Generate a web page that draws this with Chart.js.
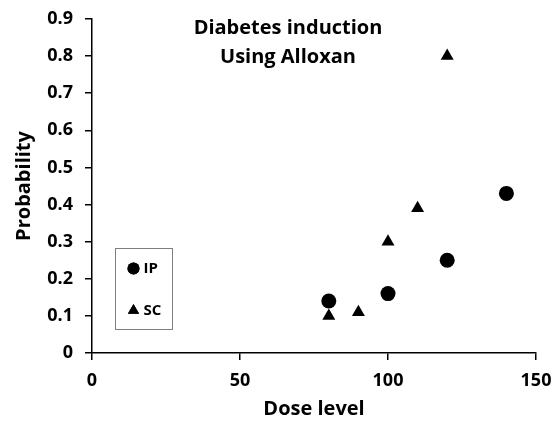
<!DOCTYPE html>
<html>
<head>
<meta charset="utf-8">
<script src="https://cdn.jsdelivr.net/npm/chart.js@4/dist/chart.umd.min.js"></script>
<style>
  html, body { margin: 0; padding: 0; background: #ffffff; }
  #wrap { width: 559px; height: 421px; }
</style>
</head>
<body>
<div id="wrap"><canvas id="chart" width="559" height="421"></canvas></div>
<script>
// Data
const ipDose = [80, 100, 120, 140];
const ipProb = [0.14, 0.16, 0.25, 0.43];
const scDose = [80, 90, 100, 110, 120];
const scProb = [0.10, 0.11, 0.30, 0.39, 0.80];
const titleLines = ['Diabetes induction', 'Using Alloxan'];

const FONT = '"Open Sans", Lato, sans-serif';

const toPoints = (xs, ys) => xs.map((x, i) => ({ x, y: ys[i] }));

// Title drawn inside the plot area, plus a boxed legend at lower left
const insidePlugin = {
  id: 'inside',
  afterDraw(chart) {
    const { ctx, chartArea } = chart;
    const x0 = chartArea.left, y0 = chart.scales.y.getPixelForValue(0.9);
    ctx.save();
    ctx.fillStyle = '#000';
    ctx.textAlign = 'center';
    ctx.textBaseline = 'middle';
    ctx.font = 'bold 20px ' + FONT;
    titleLines.forEach((t, i) => {
      ctx.fillText(t, x0 + 196, y0 + 9 + i * 29);
    });

    // legend box
    const bx = Math.round(x0 + 23) + 0.5, by = Math.round(y0 + 229) + 0.5;
    ctx.strokeStyle = '#7f7f7f';
    ctx.lineWidth = 1;
    ctx.strokeRect(bx, by, 57, 81);
    ctx.textAlign = 'left';
    ctx.font = 'bold 15px ' + FONT;
    chart.data.datasets.forEach((ds, i) => {
      const cy = by + 20 + i * 42;
      Chart.helpers.drawPoint(ctx, {
        pointStyle: ds.pointStyle,
        radius: ds.pointStyle === 'circle' ? 6 : 6.5,
        borderWidth: 0
      }, bx + 18, cy);
      ctx.fillStyle = '#000';
      ctx.fill();
      ctx.fillText(ds.label, bx + 28, cy);
    });
    ctx.restore();
  }
};

const axisLine = { color: '#000', width: 1.5 };
const tickGrid = {
  display: true,
  drawOnChartArea: false,
  drawTicks: true,
  tickLength: 7,
  color: '#000',
  lineWidth: 1.5
};

new Chart(document.getElementById('chart').getContext('2d'), {
  type: 'scatter',
  data: {
    datasets: [
      {
        label: 'IP',
        data: toPoints(ipDose, ipProb),
        pointStyle: 'circle',
        pointRadius: 7.5,
        pointHoverRadius: 7.5,
        backgroundColor: '#000',
        borderColor: '#000',
        borderWidth: 0
      },
      {
        label: 'SC',
        data: toPoints(scDose, scProb),
        pointStyle: 'triangle',
        pointRadius: 7.5,
        pointHoverRadius: 7.5,
        backgroundColor: '#000',
        borderColor: '#000',
        borderWidth: 0
      }
    ]
  },
  options: {
    responsive: false,
    animation: false,
    layout: { padding: { left: 0, right: 23, top: 19, bottom: 0 } },
    plugins: {
      legend: { display: false },
      tooltip: { enabled: false }
    },
    scales: {
      x: {
        type: 'linear',
        min: 0,
        max: 150,
        border: axisLine,
        grid: tickGrid,
        ticks: {
          stepSize: 50,
          color: '#000',
          padding: 10,
          font: { family: FONT, size: 18, weight: 'bold' }
        },
        title: {
          display: true,
          text: 'Dose level',
          color: '#000',
          padding: { top: -2, bottom: 0 },
          font: { family: FONT, size: 20, weight: 'bold' }
        },
        afterFit(scale) {
          scale.height = 68;
          scale.paddingLeft = 0;
          scale.paddingRight = 0;
        }
      },
      y: {
        type: 'linear',
        min: 0,
        max: 0.9,
        border: axisLine,
        grid: tickGrid,
        ticks: {
          stepSize: 0.1,
          color: '#000',
          padding: 12,
          font: { family: FONT, size: 18, weight: 'bold' },
          callback: v => (Math.round(v * 10) / 10).toString()
        },
        title: {
          display: true,
          text: 'Probability',
          color: '#000',
          padding: { top: 12, bottom: 0 },
          font: { family: FONT, size: 20, weight: 'bold' }
        },
        afterFit(scale) {
          scale.width = 92;
          scale.paddingTop = 0;
          scale.paddingBottom = 0;
        }
      }
    }
  },
  plugins: [insidePlugin]
});
</script>
</body>
</html>
